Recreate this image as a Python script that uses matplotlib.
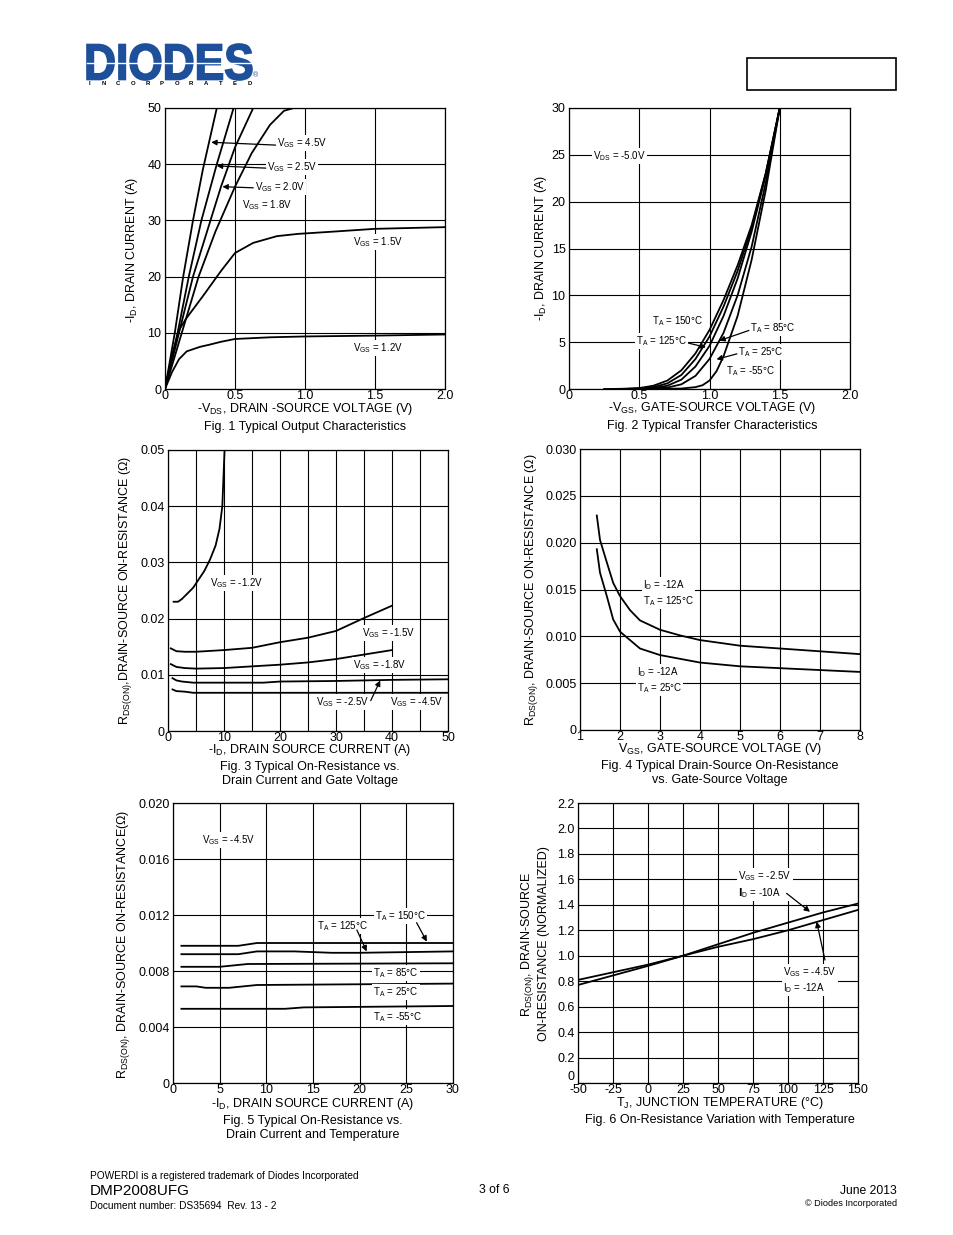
import matplotlib
matplotlib.use('Agg')
import matplotlib.pyplot as plt
from matplotlib.textpath import TextPath
from matplotlib.patches import PathPatch, Rectangle
from matplotlib.font_manager import FontProperties
from matplotlib.transforms import Affine2D

plt.rcParams['font.family'] = ['Liberation Sans', 'DejaVu Sans']
plt.rcParams['mathtext.default'] = 'regular'

# ---- Fig. 1 output characteristics (-VDS [V], -ID [A]) ----
f1_vgs45_v = [0, 0.07, 0.13, 0.20, 0.27, 0.37]
f1_vgs45_i = [0, 10, 20, 30, 39, 50]
f1_vgs25_v = [0, 0.09, 0.17, 0.26, 0.37, 0.49]
f1_vgs25_i = [0, 10, 20, 30, 40, 50]
f1_vgs20_v = [0, 0.10, 0.20, 0.30, 0.40, 0.50, 0.63]
f1_vgs20_i = [0, 10, 20, 28, 36, 43, 50]
f1_vgs18_v = [0, 0.12, 0.24, 0.36, 0.50, 0.62, 0.75, 0.85, 0.92]
f1_vgs18_i = [0, 10, 20, 28, 36, 42, 47, 49.5, 50]
f1_vgs15_v = [0, 0.05, 0.10, 0.15, 0.27, 0.40, 0.50, 0.63, 0.80, 0.95, 1.2, 1.5, 2.0]
f1_vgs15_i = [0, 6, 10.5, 12.5, 16.5, 21, 24.2, 26, 27.2, 27.6, 28, 28.5, 28.8]
f1_vgs12_v = [0, 0.05, 0.10, 0.155, 0.25, 0.32, 0.40, 0.50, 0.75, 1.0, 1.5, 2.0]
f1_vgs12_i = [0, 3, 5.3, 6.7, 7.5, 7.9, 8.4, 8.9, 9.2, 9.35, 9.5, 9.7]

# ---- Fig. 2 transfer characteristics (-VGS [V], -ID [A]) ----
f2_t150_v = [0.25, 0.4, 0.5, 0.6, 0.7, 0.8, 0.9, 1.0, 1.1, 1.2, 1.3, 1.4, 1.5]
f2_t150_i = [0, 0.02, 0.1, 0.35, 0.9, 2.0, 3.8, 6.3, 9.5, 13.2, 17.5, 23, 30]
f2_t125_v = [0.3, 0.5, 0.6, 0.7, 0.8, 0.9, 1.0, 1.1, 1.2, 1.3, 1.4, 1.5]
f2_t125_i = [0, 0.05, 0.2, 0.6, 1.5, 3.2, 5.6, 8.8, 12.6, 17.2, 23, 30]
f2_t85_v = [0.4, 0.6, 0.7, 0.8, 0.9, 1.0, 1.1, 1.2, 1.3, 1.4, 1.5]
f2_t85_i = [0, 0.1, 0.35, 1.0, 2.4, 4.6, 7.8, 11.8, 16.8, 22.8, 30]
f2_t25_v = [0.5, 0.7, 0.8, 0.9, 1.0, 1.1, 1.2, 1.3, 1.4, 1.5]
f2_t25_i = [0, 0.15, 0.5, 1.4, 3.2, 6.0, 10.0, 15.2, 22, 30]
f2_tm55_v = [0.6, 0.8, 0.9, 0.95, 1.0, 1.05, 1.1, 1.2, 1.3, 1.4, 1.5]
f2_tm55_i = [0, 0.05, 0.2, 0.4, 0.9, 1.9, 3.5, 7.8, 13.8, 21.2, 30]

# ---- Fig. 3 RDS(ON) vs ID and VGS ----
f3_vgs12_i = [1.0, 1.8, 2.5, 3.5, 4.5, 5.5, 6.5, 7.5, 8.5, 9.2, 9.7, 9.9, 10.1]
f3_vgs12_r = [0.023, 0.023, 0.0235, 0.0245, 0.0255, 0.027, 0.0285, 0.0305, 0.033, 0.036, 0.040, 0.045, 0.050]
f3_vgs15_i = [0.5, 1.5, 3, 5, 10, 15, 17, 20, 25, 30, 35, 40]
f3_vgs15_r = [0.0147, 0.0142, 0.0141, 0.0141, 0.0144, 0.0148, 0.0152, 0.0158, 0.0166, 0.0178, 0.0201, 0.0223]
f3_vgs18_i = [0.5, 1.5, 3, 5, 10, 15, 20, 25, 30, 35, 40]
f3_vgs18_r = [0.0119, 0.0114, 0.0112, 0.0111, 0.0112, 0.0115, 0.0118, 0.0122, 0.0128, 0.0136, 0.0144]
f3_vgs25_i = [0.8, 1.5, 2.5, 4.5, 10, 17, 20, 30, 40, 50]
f3_vgs25_r = [0.0094, 0.0090, 0.0088, 0.0086, 0.0086, 0.0086, 0.0088, 0.0089, 0.0091, 0.0092]
f3_vgs45_i = [0.8, 1.5, 3, 4.5, 10, 20, 30, 40, 50]
f3_vgs45_r = [0.0074, 0.0071, 0.0070, 0.0068, 0.0068, 0.0068, 0.0068, 0.0068, 0.0068]

# ---- Fig. 4 RDS(ON) vs VGS ----
f4_t125_v = [1.42, 1.5, 1.67, 1.83, 2.0, 2.25, 2.5, 2.75, 3.0, 3.5, 4.0, 4.5, 5, 6, 7, 8]
f4_t125_r = [0.0229, 0.0203, 0.0179, 0.0157, 0.0143, 0.0128, 0.0117, 0.0112, 0.0107, 0.0101,
             0.0096, 0.0093, 0.0090, 0.0087, 0.0084, 0.0081]
f4_t25_v = [1.42, 1.5, 1.67, 1.83, 2.0, 2.5, 3.0, 3.5, 4.0, 5, 6, 7, 8]
f4_t25_r = [0.0193, 0.0168, 0.0143, 0.0118, 0.0105, 0.0087, 0.0080, 0.0076, 0.0072,
            0.0068, 0.0066, 0.0064, 0.0062]

# ---- Fig. 5 RDS(ON) vs ID and temperature ----
f5_t150_i = [0.9, 7, 9, 30]
f5_t150_r = [0.0098, 0.0098, 0.0100, 0.0100]
f5_t125_i = [0.9, 7, 9, 13, 17, 20, 30]
f5_t125_r = [0.0092, 0.0092, 0.0094, 0.0094, 0.0093, 0.0093, 0.0094]
f5_t85_i = [0.9, 5, 8, 30]
f5_t85_r = [0.0083, 0.0083, 0.0085, 0.00855]
f5_t25_i = [0.9, 2.5, 3.5, 6, 9, 30]
f5_t25_r = [0.0069, 0.0069, 0.0068, 0.0068, 0.0070, 0.0071]
f5_tm55_i = [0.9, 12, 14, 30]
f5_tm55_r = [0.0053, 0.0053, 0.0054, 0.0055]

# ---- Fig. 6 normalized RDS(ON) vs TJ ----
f6_temp = [-50, 0, 25, 50, 75, 100, 125, 150]
f6_vgs25_r = [0.81, 0.93, 1.0, 1.09, 1.18, 1.26, 1.34, 1.41]
f6_vgs45_r = [0.77, 0.92, 1.0, 1.07, 1.13, 1.20, 1.28, 1.36]

W, H = 954, 1235
fig = plt.figure(figsize=(W / 100, H / 100), dpi=100)
fig.patch.set_facecolor('white')

page = fig.add_axes([0, 0, 1, 1])
page.set_xlim(0, W)
page.set_ylim(H, 0)
page.axis('off')


def make_ax(l, r, t, b, xlim, ylim, xticks, xlabels, yticks, ylabels, xgrid=None, ygrid=None):
    ax = fig.add_axes([l / W, 1 - b / H, (r - l) / W, (b - t) / H])
    ax.set_xlim(*xlim)
    ax.set_ylim(*ylim)
    ax.set_xticks(xticks)
    ax.set_xticklabels(xlabels)
    ax.set_yticks(yticks)
    ax.set_yticklabels(ylabels)
    if xgrid is not None:
        ax.set_xticks(xgrid, minor=True)
    if ygrid is not None:
        ax.set_yticks(ygrid, minor=True)
    ax.grid(True, which='both', color='black', lw=0.8)
    ax.set_axisbelow(True)
    ax.tick_params(which='both', length=0, labelsize=9)
    ax.tick_params(axis='x', pad=0.8)
    ax.tick_params(axis='y', pad=2.5)
    for s in ax.spines.values():
        s.set_linewidth(0.9)
    return ax


def note(ax, x, y, s):
    ax.text(x, y, s, fontsize=7, ha='left', va='center', linespacing=1.25,
            bbox=dict(facecolor='white', edgecolor='none', pad=0.8), zorder=5)


def arrow(ax, tail, tip):
    ax.annotate('', xy=tip, xytext=tail, zorder=6,
                arrowprops=dict(arrowstyle='-|>', color='black', lw=0.9,
                                mutation_scale=8, shrinkA=0, shrinkB=0))


def ptext(x, y, s, size=9, ha='center', **kw):
    page.text(x, y, s, fontsize=size, ha=ha, va='center', **kw)


LW = 1.3

# Fig. 1
ax1 = make_ax(165, 445, 108, 389, (0, 2), (0, 50),
              [0, 0.5, 1.0, 1.5, 2.0], ['0', '0.5', '1.0', '1.5', '2.0'],
              [0, 10, 20, 30, 40, 50], ['0', '10', '20', '30', '40', '50'])
for v, i in [(f1_vgs45_v, f1_vgs45_i), (f1_vgs25_v, f1_vgs25_i), (f1_vgs20_v, f1_vgs20_i),
             (f1_vgs18_v, f1_vgs18_i), (f1_vgs15_v, f1_vgs15_i), (f1_vgs12_v, f1_vgs12_i)]:
    ax1.plot(v, i, color='black', lw=LW)
note(ax1, 0.80, 43.8, 'V$_{GS}$ = 4.5V')
arrow(ax1, (0.79, 43.4), (0.33, 43.9))
note(ax1, 0.73, 39.5, 'V$_{GS}$ = 2.5V')
arrow(ax1, (0.72, 39.3), (0.37, 39.7))
note(ax1, 0.64, 35.9, 'V$_{GS}$ = 2.0V')
arrow(ax1, (0.63, 35.8), (0.41, 36.0))
note(ax1, 0.55, 32.7, 'V$_{GS}$ = 1.8V')
note(ax1, 1.34, 26.2, 'V$_{GS}$ = 1.5V')
note(ax1, 1.34, 7.3, 'V$_{GS}$ = 1.2V')
ptext(305, 409, '-V$_{DS}$, DRAIN -SOURCE VOLTAGE (V)')
ptext(305, 427, 'Fig. 1 Typical Output Characteristics')
ptext(132, 250, '-I$_D$, DRAIN CURRENT (A)', rotation=90)

# Fig. 2
ax2 = make_ax(569, 850, 108, 389, (0, 2), (0, 30),
              [0, 0.5, 1.0, 1.5, 2.0], ['0', '0.5', '1.0', '1.5', '2.0'],
              [0, 5, 10, 15, 20, 25, 30], ['0', '5', '10', '15', '20', '25', '30'])
for v, i in [(f2_t150_v, f2_t150_i), (f2_t125_v, f2_t125_i), (f2_t85_v, f2_t85_i),
             (f2_t25_v, f2_t25_i), (f2_tm55_v, f2_tm55_i)]:
    ax2.plot(v, i, color='black', lw=LW)
note(ax2, 0.17, 24.9, 'V$_{DS}$ = -5.0V')
note(ax2, 0.59, 7.2, 'T$_A$ = 150°C')
note(ax2, 0.48, 5.16, 'T$_A$ = 125°C')
arrow(ax2, (0.85, 4.9), (0.975, 4.45))
note(ax2, 1.29, 6.48, 'T$_A$ = 85°C')
arrow(ax2, (1.28, 6.25), (1.07, 5.16))
note(ax2, 1.20, 3.98, 'T$_A$ = 25°C')
arrow(ax2, (1.195, 3.75), (1.05, 3.17))
note(ax2, 1.12, 1.96, 'T$_A$ = -55°C')
ptext(712, 408, '-V$_{GS}$, GATE-SOURCE VOLTAGE (V)')
ptext(712, 426, 'Fig. 2 Typical Transfer Characteristics')
ptext(541, 248, '-I$_D$, DRAIN CURRENT (A)', rotation=90)

# Fig. 3
ax3 = make_ax(168, 448, 450, 731, (0, 50), (0, 0.05),
              [0, 10, 20, 30, 40, 50], ['0', '10', '20', '30', '40', '50'],
              [0, 0.01, 0.02, 0.03, 0.04, 0.05], ['0', '0.01', '0.02', '0.03', '0.04', '0.05'],
              xgrid=[5, 15, 25, 35, 45])
for i, r in [(f3_vgs12_i, f3_vgs12_r), (f3_vgs15_i, f3_vgs15_r), (f3_vgs18_i, f3_vgs18_r),
             (f3_vgs25_i, f3_vgs25_r), (f3_vgs45_i, f3_vgs45_r)]:
    ax3.plot(i, r, color='black', lw=LW)
note(ax3, 7.5, 0.0263, 'V$_{GS}$ = -1.2V')
note(ax3, 34.6, 0.0175, 'V$_{GS}$ = -1.5V')
note(ax3, 33.0, 0.0118, 'V$_{GS}$ = -1.8V')
note(ax3, 26.4, 0.0051, 'V$_{GS}$ = -2.5V')
arrow(ax3, (36.2, 0.0054), (37.9, 0.0090))
note(ax3, 39.6, 0.0051, 'V$_{GS}$ = -4.5V')
ptext(310, 750, '-I$_D$, DRAIN SOURCE CURRENT (A)')
ptext(310, 767, 'Fig. 3 Typical On-Resistance vs.')
ptext(310, 781, 'Drain Current and Gate Voltage')
ptext(126, 590, 'R$_{DS(ON)}$,DRAIN-SOURCE ON-RESISTANCE (Ω)', rotation=90)

# Fig. 4
ax4 = make_ax(580, 860, 449, 730, (1, 8), (0, 0.03),
              [1, 2, 3, 4, 5, 6, 7, 8], ['1', '2', '3', '4', '5', '6', '7', '8'],
              [0, 0.005, 0.01, 0.015, 0.02, 0.025, 0.03],
              ['0', '0.005', '0.010', '0.015', '0.020', '0.025', '0.030'])
ax4.plot(f4_t125_v, f4_t125_r, color='black', lw=LW)
ax4.plot(f4_t25_v, f4_t25_r, color='black', lw=LW)
note(ax4, 2.57, 0.01465, 'I$_D$ = -12A\nT$_A$ = 125°C')
note(ax4, 2.42, 0.0053, 'I$_D$ = -12A\nT$_A$ = 25°C')
ptext(720, 749, 'V$_{GS}$, GATE-SOURCE VOLTAGE (V)')
ptext(720, 766, 'Fig. 4 Typical Drain-Source On-Resistance')
ptext(720, 780, 'vs. Gate-Source Voltage')
ptext(532, 590, 'R$_{DS(ON)}$, DRAIN-SOURCE ON-RESISTANCE (Ω)', rotation=90)

# Fig. 5
ax5 = make_ax(173, 453, 803, 1083, (0, 30), (0, 0.02),
              [0, 5, 10, 15, 20, 25, 30], ['0', '5', '10', '15', '20', '25', '30'],
              [0, 0.004, 0.008, 0.012, 0.016, 0.02],
              ['0', '0.004', '0.008', '0.012', '0.016', '0.020'])
for i, r in [(f5_t150_i, f5_t150_r), (f5_t125_i, f5_t125_r), (f5_t85_i, f5_t85_r),
             (f5_t25_i, f5_t25_r), (f5_tm55_i, f5_tm55_r)]:
    ax5.plot(i, r, color='black', lw=LW)
note(ax5, 3.07, 0.01736, 'V$_{GS}$ = -4.5V')
note(ax5, 21.6, 0.01193, 'T$_A$ = 150°C')
arrow(ax5, (26.1, 0.01145), (27.2, 0.0101))
note(ax5, 15.4, 0.01121, 'T$_A$ = 125°C')
arrow(ax5, (19.7, 0.01093), (20.75, 0.0094))
note(ax5, 21.45, 0.00788, 'T$_A$ = 85°C')
note(ax5, 21.45, 0.0065, 'T$_A$ = 25°C')
note(ax5, 21.45, 0.00474, 'T$_A$ = -55°C')
ptext(313, 1104, '-I$_D$, DRAIN SOURCE CURRENT (A)')
ptext(313, 1121, 'Fig. 5 Typical On-Resistance vs.')
ptext(313, 1135, 'Drain Current and Temperature')
ptext(124, 944, 'R$_{DS(ON)}$, DRAIN-SOURCE ON-RESISTANCE(Ω)', rotation=90)

# Fig. 6 (the y "0" label sits a little higher, clear of "-50")
ax6 = make_ax(578, 858, 803, 1083, (-50, 150), (0, 2.2),
              [-50, -25, 0, 25, 50, 75, 100, 125, 150],
              ['-50', '-25', '0', '25', '50', '75', '100', '125', '150'],
              [0, 0.2, 0.4, 0.6, 0.8, 1.0, 1.2, 1.4, 1.6, 1.8, 2.0, 2.2],
              ['', '0.2', '0.4', '0.6', '0.8', '1.0', '1.2', '1.4', '1.6', '1.8', '2.0', '2.2'])
ptext(575, 1077, '0', ha='right')
ax6.plot(f6_temp, f6_vgs25_r, color='black', lw=LW)
ax6.plot(f6_temp, f6_vgs45_r, color='black', lw=LW)
note(ax6, 64.5, 1.56, 'V$_{GS}$ = -2.5V\n$\\mathbf{I}_D$ = -10A')
arrow(ax6, (99, 1.49), (115.7, 1.345))
note(ax6, 96.7, 0.81, 'V$_{GS}$ = -4.5V\nI$_D$ = -12A')
arrow(ax6, (126.4, 0.966), (120.5, 1.267))
ptext(720, 1103, 'T$_J$, JUNCTION TEMPERATURE (°C)')
ptext(720, 1120, 'Fig. 6 On-Resistance Variation with Temperature')
ptext(528, 944, 'R$_{DS(ON)}$, DRAIN-SOURCE', rotation=90)
ptext(544, 944, 'ON-RESISTANCE (NORMALIZED)', rotation=90)

# header: logo and empty box
blue = '#1d4f9a'
tp = TextPath((0, 0), 'DIODES', prop=FontProperties(family='Liberation Sans', weight='bold'))
ext = tp.get_extents()
tr = (Affine2D().translate(-ext.x0, -ext.y0)
      .scale(165 / ext.width, -36 / ext.height).translate(87, 80))
page.add_patch(PathPatch(tr.transform_path(tp), facecolor=blue, edgecolor=blue, lw=1.2))
page.plot([87, 252], [63, 63], color='white', lw=1.0)
page.text(253, 76, '®', fontsize=5, color=blue, ha='left', va='center')
for k, ch in enumerate('INCORPORATED'):
    page.text(89 + k * 14.6, 83.5, ch, fontsize=4.3, fontweight='bold', ha='center', va='center')
page.add_patch(Rectangle((747, 58), 149, 32, fill=False, lw=1.2, edgecolor='black'))

# footer
ptext(90, 1176, 'POWERDI is a registered trademark of Diodes Incorporated', size=7.3, ha='left')
ptext(90, 1191, 'DMP2008UFG', size=11, ha='left')
ptext(90, 1206, 'Document number: DS35694  Rev. 13 - 2', size=7.3, ha='left')
ptext(494, 1190, '3 of 6', size=8.7)
ptext(897, 1191, 'June 2013', size=8.7, ha='right')
ptext(897, 1204, '© Diodes Incorporated', size=6.6, ha='right')

fig.savefig('out.png', dpi=100)
